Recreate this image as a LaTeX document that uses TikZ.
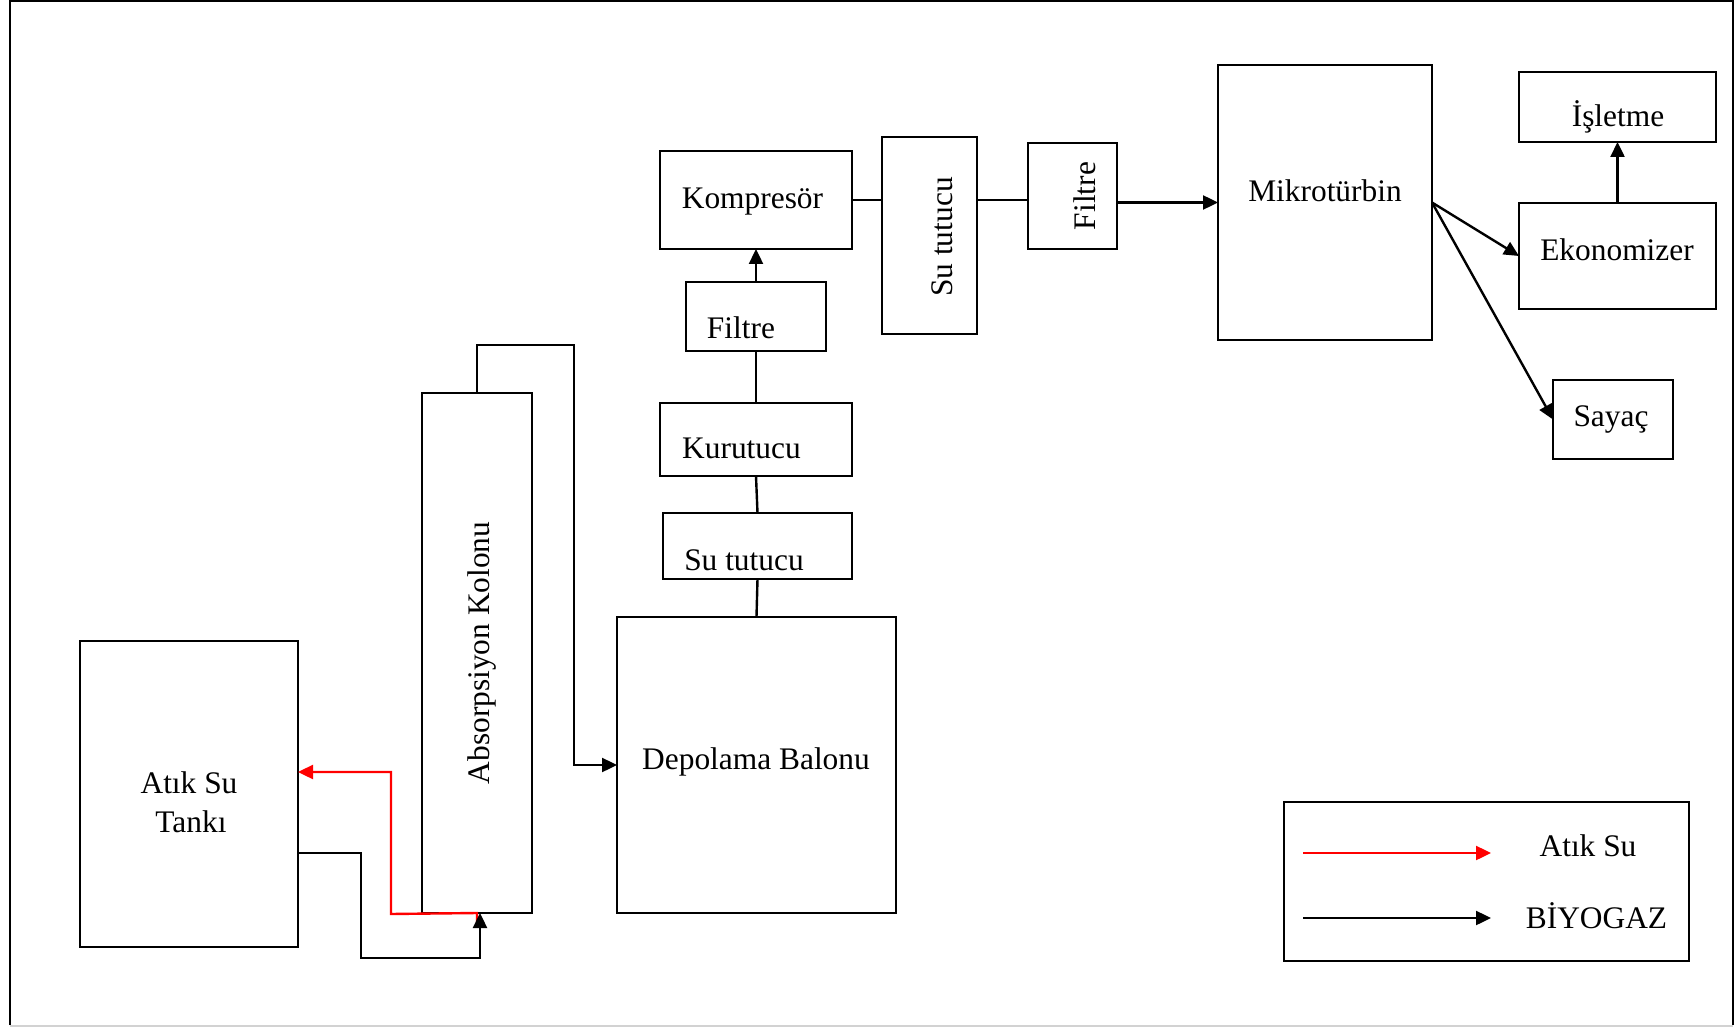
\documentclass[tikz,border=0pt]{standalone}
\usepackage{fontspec}
\setmainfont{Liberation Serif}
\usetikzlibrary{arrows.meta}
\begin{document}
\begin{tikzpicture}[x=0.5pt,y=-0.5pt,
  box/.style={draw,line width=1.2pt,inner sep=0pt,outer sep=0pt},
  lbl/.style={inner sep=0pt,font=\fontsize{15.7}{19.5}\selectfont},
  conn/.style={line width=1.2pt},
  arr/.style={line width=1.2pt,-{Triangle[length=7.5pt,width=7pt]}},
  redarr/.style={arr,draw=red}
]
\useasboundingbox (0,0) rectangle (1735,1027);
% outer frame
\draw[line width=1.2pt] (10,1025) -- (10,1) -- (1733,1) -- (1733,1025);
\draw[line width=1pt,gray!35] (10,1025.5) -- (1733,1025.5);

% boxes
\node[box,minimum width=109pt,minimum height=153pt] (tank) at (189,794) {};
\node[box,minimum width=55pt,minimum height=260pt] (absorb) at (477,653) {};
\node[box,minimum width=139.5pt,minimum height=148pt] (depo) at (756.5,765) {};
\node[box,minimum width=94.5pt,minimum height=33pt] (sut1) at (757.5,546) {};
\node[box,minimum width=96pt,minimum height=36.5pt] (kuru) at (756,439.5) {};
\node[box,minimum width=70pt,minimum height=34.5pt] (filt1) at (756,316.5) {};
\node[box,minimum width=96pt,minimum height=49pt] (komp) at (756,200) {};
\node[box,minimum width=47.5pt,minimum height=98.5pt] (sut2) at (929.5,235.5) {};
\node[box,minimum width=44.5pt,minimum height=53pt] (filt2) at (1072.5,196) {};
\node[box,minimum width=107pt,minimum height=137.5pt] (mikro) at (1325,202.5) {};
\node[box,minimum width=98.5pt,minimum height=35pt] (islet) at (1617.5,107) {};
\node[box,minimum width=98.5pt,minimum height=53pt] (ekon) at (1617.5,256) {};
\node[box,minimum width=60pt,minimum height=39.5pt] (sayac) at (1613,419.5) {};
\node[box,minimum width=202.5pt,minimum height=79.5pt] (legend) at (1486.5,881.5) {};

% labels
\node[lbl,anchor=base] (tTank1) at (189,793) {Atık Su};
\node[lbl,anchor=base] (tTank2) at (191,832) {Tankı};
\node[lbl,anchor=base,rotate=90] (tAbs) at (489,653) {Absorpsiyon Kolonu};
\node[lbl,anchor=base] (tDepo) at (756,769) {Depolama Balonu};
\node[lbl,anchor=base] (tSut1) at (744,570) {Su tutucu};
\node[lbl,anchor=base] (tKuru) at (741.5,458) {Kurutucu};
\node[lbl,anchor=base] (tFilt1) at (741,338) {Filtre};
\node[lbl,anchor=base] (tKomp) at (752.5,209) {Kompresör};
\node[lbl,anchor=base,rotate=90] (tSut2) at (952,237) {Su tutucu};
\node[lbl,anchor=base,rotate=90] (tFilt2) at (1095,196) {Filtre};
\node[lbl,anchor=base] (tMikro) at (1325,202) {Mikrotürbin};
\node[lbl,anchor=base] (tIslet) at (1618,127) {İşletme};
\node[lbl,anchor=base] (tEkon) at (1617,261) {Ekonomizer};
\node[lbl,anchor=base] (tSayac) at (1611,426) {Sayaç};
\node[lbl,anchor=base] (tLegA) at (1588,856) {Atık Su};
\node[lbl,anchor=base] (tLegB) at (1596.5,928) {BİYOGAZ};

% waste water (red) return
\draw[redarr] ([yshift=-5.5pt]absorb.south) -- (absorb.south) -- (391,914) -- (391,772) -- (tank.east |- 0,772);
% tank -> absorption column
\draw[arr] (tank.east |- 0,853) -- (361,853) -- (361,958) -- (480,958) -- (absorb.south -| 480,0);
% column top -> storage balloon
\draw[arr] (absorb.north) -- (477,345) -- (574,345) -- (574,765) -- (depo.west);
% vertical chain
\draw[conn] (depo.north) -- (sut1.south);
\draw[conn] (sut1.north) -- (kuru.south);
\draw[conn] (kuru.north) -- (filt1.south);
\draw[arr] (filt1.north) -- (komp.south);
% horizontal chain
\draw[conn] (komp.east) -- (sut2.west |- komp.east);
\draw[conn] (sut2.east |- komp.east) -- (filt2.west |- komp.east);
\draw[arr] (filt2.east |- mikro.west) -- (mikro.west);
\draw[arr] (mikro.east) -- (ekon.west);
\draw[arr] (mikro.east) -- (sayac.west);
\draw[arr] (ekon.north) -- (islet.south);

% legend arrows
\coordinate (la1) at (1303,853);
\coordinate (la2) at (1491,853);
\coordinate (lb1) at (1303,918);
\coordinate (lb2) at (1491,918);
\draw[redarr] (la1) -- (la2);
\draw[arr] (lb1) -- (lb2);
\end{tikzpicture}
\end{document}
